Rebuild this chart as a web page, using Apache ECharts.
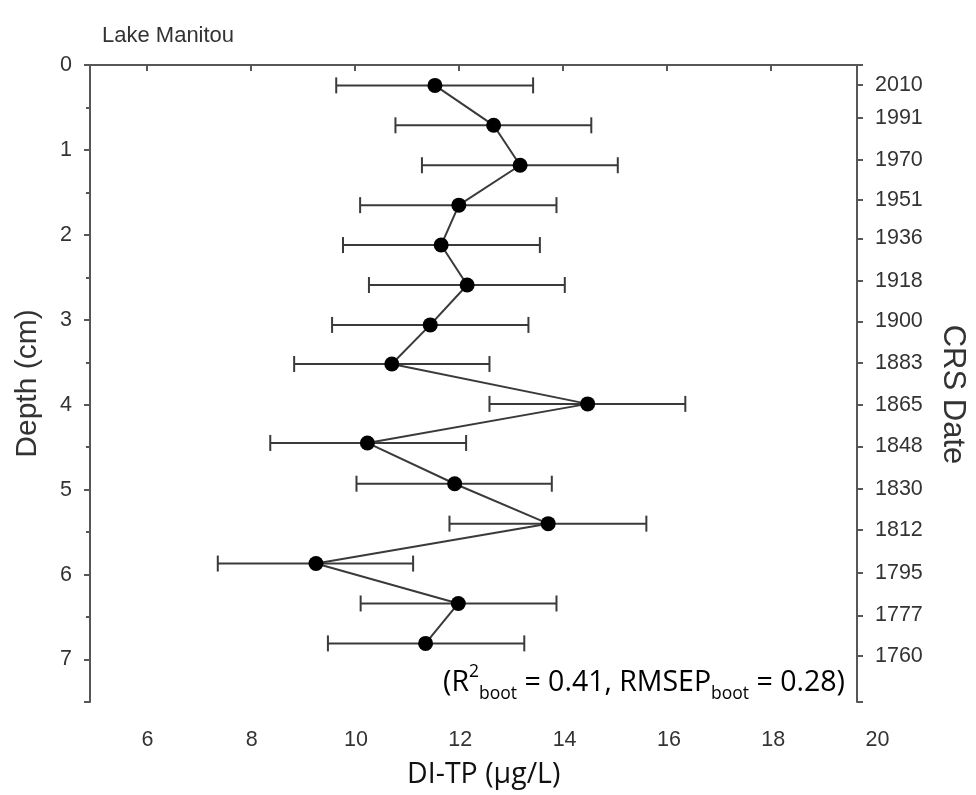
<!DOCTYPE html>
<html>
<head>
<meta charset="utf-8">
<script src="https://cdn.jsdelivr.net/npm/echarts@6/dist/echarts.min.js"></script>
<style>
  html, body { margin: 0; padding: 0; background: #fff; }
  #chart { width: 976px; height: 795px; }
</style>
</head>
<body>
<div id="chart"></div>
<script>
// Core samples: depth (cm) and diatom-inferred total phosphorus with its error range
const sampleDepths = [0.24, 0.71, 1.18, 1.65, 2.12, 2.59, 3.06, 3.52, 3.99, 4.45, 4.93, 5.40, 5.87, 6.34, 6.81];
const diTP    = [11.54, 12.67, 13.18, 12.00, 11.66, 12.16, 11.45, 10.71, 14.48, 10.24, 11.92, 13.72, 9.25, 11.99, 11.36];
const tpLower = [9.64, 10.78, 11.29, 10.10, 9.77, 10.27, 9.56, 8.83, 12.59, 8.37, 10.03, 11.82, 7.36, 10.11, 9.48];
const tpUpper = [13.43, 14.55, 15.06, 13.88, 13.56, 14.04, 13.34, 12.59, 16.36, 12.14, 13.79, 15.61, 11.12, 13.88, 13.26];

// CRS dates and the depths they are marked at on the right axis
const crsDates  = ['2010', '1991', '1970', '1951', '1936', '1918', '1900', '1883', '1865', '1848', '1830', '1812', '1795', '1777', '1760'];
const crsDepths = [0.235, 0.62, 1.12, 1.59, 2.04, 2.54, 3.02, 3.51, 4.0, 4.49, 4.99, 5.47, 5.98, 6.48, 6.96];

// Tick values
const depthTicks = [0, 1, 2, 3, 4, 5, 6, 7];
const depthMinorTicks = [0.5, 1.5, 2.5, 3.5, 4.5, 5.5, 6.5];
const tpTicks = [6, 8, 10, 12, 14, 16, 18, 20];

// Axis ranges
const TP_MIN = 4.9;
const TP_MAX_FRAME = 19.665;
const TP_MAX_LABELS = 20;
const DEPTH_MIN = 0;
const DEPTH_MAX = 7.5;

const axisColor = '#575757';
const labelFont = 'Liberation Sans, Arial, sans-serif';
const noteFont = 'Open Sans, Noto Sans, sans-serif';

const chart = echarts.init(document.getElementById('chart'), null, { renderer: 'canvas' });

const frameLine = { lineStyle: { color: axisColor, width: 2 } };
const tickLabel = { color: '#333', fontSize: 21.5, fontFamily: labelFont };

chart.setOption({
  backgroundColor: '#ffffff',
  animation: false,
  title: {
    text: 'Lake Manitou',
    left: 97,
    top: 20,
    textStyle: { color: '#333', fontSize: 22, fontWeight: 'normal', fontFamily: labelFont }
  },
  grid: [
    { left: 90, right: 116, top: 65, bottom: 93 },
    { left: 90, right: 98.5, top: 65, bottom: 93 }
  ],
  xAxis: [
    {
      gridIndex: 0, type: 'value', position: 'bottom',
      min: TP_MIN, max: TP_MAX_FRAME,
      axisLine: { show: true, ...frameLine },
      axisTick: { show: true, customValues: tpTicks.filter(v => v < TP_MAX_FRAME), length: 6, lineStyle: { color: axisColor, width: 2 } },
      axisLabel: { show: false },
      splitLine: { show: false }
    },
    {
      gridIndex: 0, type: 'value', position: 'top',
      min: TP_MIN, max: TP_MAX_FRAME,
      axisLine: { show: true, ...frameLine },
      axisTick: { show: false },
      axisLabel: { show: false },
      splitLine: { show: false }
    },
    {
      gridIndex: 1, type: 'value', position: 'bottom',
      min: TP_MIN, max: TP_MAX_LABELS,
      axisLine: { show: false },
      axisTick: { show: false },
      axisLabel: { show: true, customValues: tpTicks, margin: 27, ...tickLabel },
      splitLine: { show: false },
      name: 'DI-TP (μg/L)',
      nameLocation: 'middle',
      nameGap: 58,
      nameTextStyle: { color: '#111', fontSize: 28.5, fontFamily: noteFont }
    }
  ],
  yAxis: [
    {
      gridIndex: 0, type: 'value', position: 'left', inverse: true,
      min: DEPTH_MIN, max: DEPTH_MAX,
      axisLine: { show: true, ...frameLine },
      axisTick: { show: true, customValues: depthTicks.concat([DEPTH_MAX]), length: 6, lineStyle: { color: axisColor, width: 2 } },
      axisLabel: { show: true, customValues: depthTicks, margin: 18, ...tickLabel },
      splitLine: { show: false },
      name: 'Depth (cm)',
      nameLocation: 'middle',
      nameRotate: 90,
      nameGap: 47,
      nameTextStyle: { color: '#333', fontSize: 30, fontFamily: labelFont }
    },
    {
      gridIndex: 0, type: 'value', position: 'left', inverse: true,
      min: DEPTH_MIN, max: DEPTH_MAX,
      axisLine: { show: false },
      axisTick: { show: true, customValues: depthMinorTicks, length: 4, lineStyle: { color: axisColor, width: 2 } },
      axisLabel: { show: false },
      splitLine: { show: false }
    },
    {
      gridIndex: 0, type: 'value', position: 'right', inverse: true,
      min: DEPTH_MIN, max: DEPTH_MAX,
      axisLine: { show: true, ...frameLine },
      axisTick: { show: true, customValues: [DEPTH_MIN].concat(crsDepths, [DEPTH_MAX]), length: 6, lineStyle: { color: axisColor, width: 2 } },
      axisLabel: {
        show: true, customValues: crsDepths, margin: 18, ...tickLabel,
        formatter: v => crsDates[crsDepths.indexOf(v)]
      },
      splitLine: { show: false },
      name: 'CRS Date',
      nameLocation: 'middle',
      nameRotate: -90,
      nameGap: 80,
      nameTextStyle: { color: '#333', fontSize: 31, fontFamily: labelFont, padding: [0, 0, 0, 22] }
    },
    {
      gridIndex: 1, type: 'value', inverse: true, show: false,
      min: DEPTH_MIN, max: DEPTH_MAX
    }
  ],
  graphic: [
    {
      type: 'text',
      left: 443,
      top: 663,
      style: {
        text: '{m|(R}{sup|2}{sub|boot}{m| = 0.41, RMSEP}{sub|boot}{m| = 0.28)}',
        rich: {
          m:   { fontSize: 28.5, lineHeight: 40, verticalAlign: 'middle', fill: '#000', fontFamily: noteFont },
          sup: { fontSize: 17.5, lineHeight: 20, verticalAlign: 'top', fill: '#000', fontFamily: noteFont },
          sub: { fontSize: 17.5, lineHeight: 3, verticalAlign: 'bottom', fill: '#000', fontFamily: noteFont }
        }
      },
      z: 10
    }
  ],
  series: [
    {
      name: 'error',
      type: 'custom',
      xAxisIndex: 0,
      yAxisIndex: 0,
      data: sampleDepths.map((d, i) => [tpLower[i], tpUpper[i], d]),
      encode: { x: [0, 1], y: 2 },
      renderItem: function (params, api) {
        const lo = api.coord([api.value(0), api.value(2)]);
        const hi = api.coord([api.value(1), api.value(2)]);
        const cap = 8;
        const style = { stroke: '#3a3a3a', lineWidth: 2 };
        return {
          type: 'group',
          children: [
            { type: 'line', shape: { x1: lo[0], y1: lo[1], x2: hi[0], y2: hi[1] }, style: style },
            { type: 'line', shape: { x1: lo[0], y1: lo[1] - cap, x2: lo[0], y2: lo[1] + cap }, style: style },
            { type: 'line', shape: { x1: hi[0], y1: hi[1] - cap, x2: hi[0], y2: hi[1] + cap }, style: style }
          ]
        };
      },
      z: 2
    },
    {
      name: 'DI-TP',
      type: 'line',
      xAxisIndex: 0,
      yAxisIndex: 0,
      data: sampleDepths.map((d, i) => [diTP[i], d]),
      symbol: 'circle',
      symbolSize: 15,
      itemStyle: { color: '#000' },
      lineStyle: { color: '#3a3a3a', width: 2 },
      z: 3
    }
  ]
});
</script>
</body>
</html>
